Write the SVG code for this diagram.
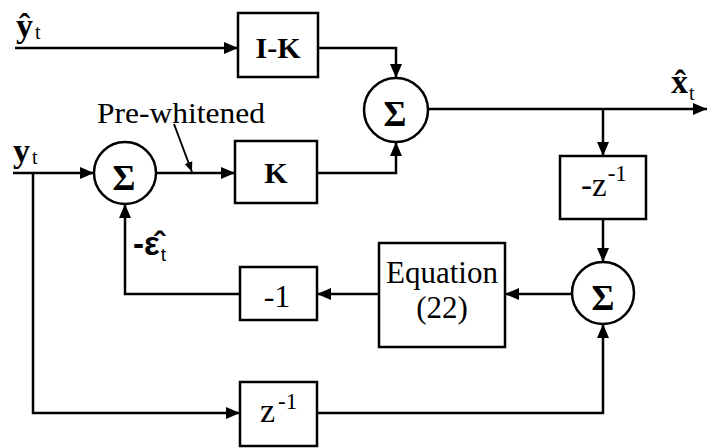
<svg xmlns="http://www.w3.org/2000/svg" width="708" height="448" viewBox="0 0 708 448">
<style>
.ln{fill:none;stroke:#000;stroke-width:2.5}
.box{fill:#fff;stroke:#000;stroke-width:2.5}
.t{font-family:"Liberation Serif","Times New Roman",serif;font-size:30px;fill:#000}
.b{font-weight:bold}
.lab{font-size:34px}
.sub{font-size:20px;font-weight:normal}
.sup{font-size:23px}
.sig{font-size:35px}
.s{font-family:"Liberation Sans",Arial,sans-serif;fill:#000}
</style>
<defs>
<marker id="ah" markerUnits="userSpaceOnUse" markerWidth="14" markerHeight="14" refX="14" refY="6" viewBox="0 0 14 12" orient="auto"><path d="M0,0 L14,6 L0,12 z" fill="#000"/></marker>
<marker id="sm" markerUnits="userSpaceOnUse" markerWidth="10" markerHeight="10" refX="10" refY="4" viewBox="0 0 10 8" orient="auto"><path d="M0,0 L10,4 L0,8 z" fill="#000"/></marker>
</defs>
<g id="connectors">
<path class="ln" d="M15,48 H238" marker-end="url(#ah)"/>
<path class="ln" d="M318,48 H396 V78" marker-end="url(#ah)"/>
<path class="ln" d="M13,173 H94" marker-end="url(#ah)"/>
<path class="ln" d="M156,173 H235" marker-end="url(#ah)"/>
<path class="ln" d="M317,173 H396 V142" marker-end="url(#ah)"/>
<path class="ln" d="M428,109 H707" marker-end="url(#ah)"/>
<path class="ln" d="M603,109 V156" marker-end="url(#ah)"/>
<path class="ln" d="M603,219 V262" marker-end="url(#ah)"/>
<path class="ln" d="M572,294 H505" marker-end="url(#ah)"/>
<path class="ln" d="M379,294 H317" marker-end="url(#ah)"/>
<path class="ln" d="M240,294 H125 V204" marker-end="url(#ah)"/>
<path class="ln" d="M33,173 V413 H240" marker-end="url(#ah)"/>
<path class="ln" d="M317,413 H603 V324" marker-end="url(#ah)"/>
<path class="ln" style="stroke-width:2" d="M174,124 L192,172" marker-end="url(#sm)"/>
</g>
<g id="lbl-yhat"><text class="t b lab" x="16" y="37">ŷ<tspan class="sub" dx="2" dy="2">t</tspan></text></g>
<g id="lbl-y"><text class="t b lab" x="13" y="162">y<tspan class="sub" dx="2" dy="2">t</tspan></text></g>
<g id="lbl-xhat"><text class="t b lab" x="671" y="93">x̂<tspan class="sub" dx="1" dy="7">t</tspan></text></g>
<g id="lbl-eps"><text class="s" x="133" y="255" style="font-size:33px;font-weight:bold">-ε̂<tspan dx="1" dy="6" style="font-size:19px;font-weight:normal">t</tspan></text></g>
<g id="lbl-prewhitened"><text class="t" x="97" y="123" textLength="168" lengthAdjust="spacingAndGlyphs">Pre-whitened</text></g>
<g id="box-IK"><rect class="box" x="238" y="13" width="80" height="64"/><text class="t b" x="278" y="58" text-anchor="middle">I-K</text></g>
<g id="box-K"><rect class="box" x="235" y="141" width="82" height="62"/><text class="t b" x="276" y="183" text-anchor="middle">K</text></g>
<g id="sum1"><circle class="box" cx="125" cy="173" r="31"/><text class="t b sig" x="124" y="190" text-anchor="middle">Σ</text></g>
<g id="sum2"><circle class="box" cx="396" cy="110" r="32"/><text class="t b sig" x="395" y="126" text-anchor="middle">Σ</text></g>
<g id="sum3"><circle class="box" cx="603" cy="293" r="31"/><text class="t b sig" x="603" y="310" text-anchor="middle">Σ</text></g>
<g id="box-mz"><rect class="box" x="560" y="156" width="86" height="63"/><text class="t" x="581" y="196" style="font-size:33px">-z<tspan class="sup" dx="1" dy="-15">-1</tspan></text></g>
<g id="box-eq"><rect class="box" x="379" y="243" width="126" height="104"/><text class="t" x="442" y="283" text-anchor="middle" style="font-size:31px">Equation</text><text class="t" x="442" y="318" text-anchor="middle" style="font-size:31px">(22)</text></g>
<g id="box-neg1"><rect class="box" x="240" y="267" width="77" height="53"/><text class="t" x="277" y="307" text-anchor="middle" style="font-size:32px">-1</text></g>
<g id="box-z"><rect class="box" x="240" y="382" width="77" height="64"/><text class="t" x="260" y="422" style="font-size:34px">z<tspan class="sup" dx="3" dy="-13">-1</tspan></text></g>
</svg>
